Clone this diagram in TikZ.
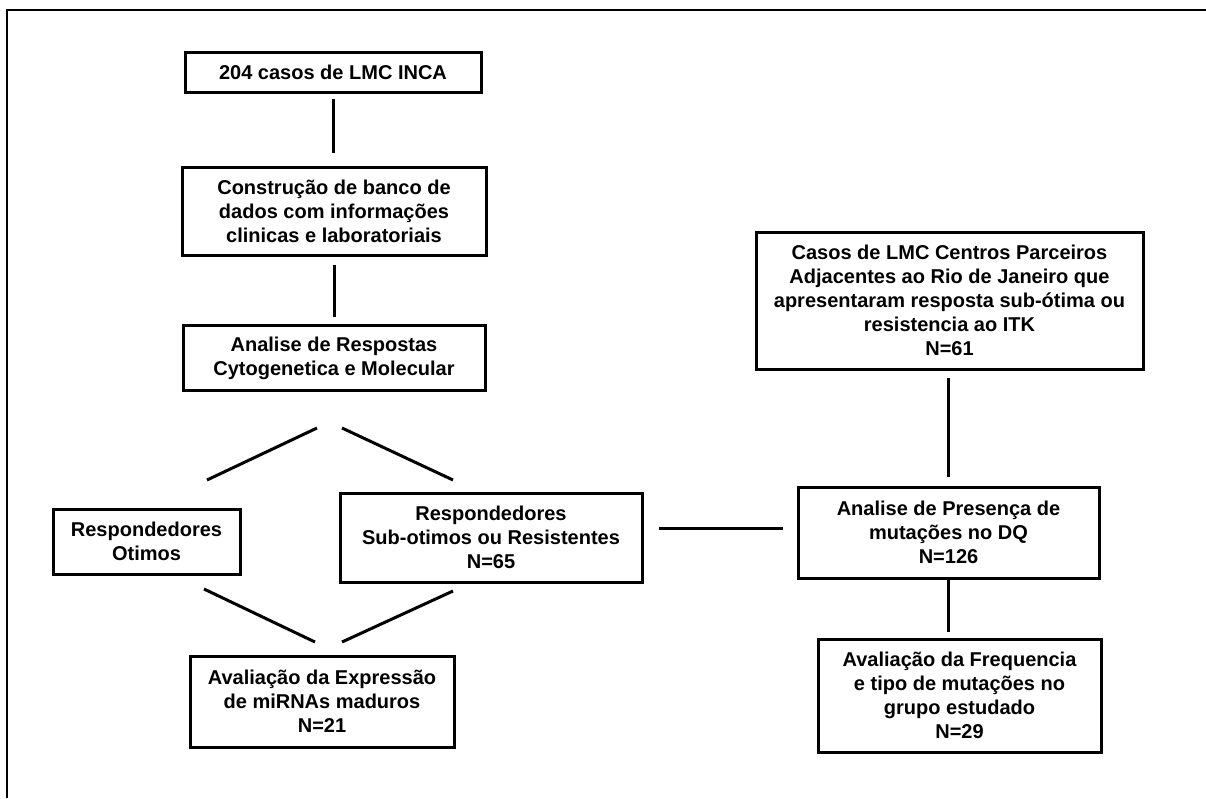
\documentclass[tikz,border=0pt]{standalone}
\usepackage{fontspec}
\setmainfont{Liberation Sans}
\usepackage{tikz}
\tikzset{caixa/.style={draw=black, line width=3pt, align=center, inner sep=0pt,
    font=\bfseries\fontsize{20}{24}\selectfont},
    liga/.style={line width=3pt}}

\begin{document}
\begin{tikzpicture}[x=1pt, y=-1pt]

            \useasboundingbox (0,0) rectangle (1206,798);
            \draw[line width=2pt] (1206,10) -- (7,10) -- (7,798);

            \node[caixa, minimum width=296, minimum height=40] (inca) at (333,72) {204 casos de LMC INCA};
            \node[caixa, minimum width=304, minimum height=88] (banco) at (334,211) {Construção de banco de\\dados com informações\\clinicas e laboratoriais};
            \node[caixa, minimum width=302, minimum height=65] (analise) at (334,358) {Analise de Respostas\\Cytogenetica e Molecular};
            \node[caixa, minimum width=187, minimum height=65] (otimos) at (146.5,541.5) {Respondedores\\Otimos};
            \node[caixa, minimum width=302, minimum height=89] (subotimos) at (491,537.5) {Respondedores\\Sub-otimos ou Resistentes\\N=65};
            \node[caixa, minimum width=264, minimum height=91] (mirna) at (322,701.5) {Avaliação da Expressão\\de miRNAs maduros\\N=21};
            \node[caixa, minimum width=387, minimum height=137] (centros) at (949.5,300.5) {Casos de LMC Centros Parceiros\\Adjacentes ao Rio de Janeiro que\\apresentaram resposta sub-ótima ou\\resistencia ao ITK\\N=61};
            \node[caixa, minimum width=301, minimum height=91] (dq) at (948.5,532.5) {Analise de Presença de\\mutações no DQ\\N=126};
            \node[caixa, minimum width=283, minimum height=113] (freq) at (959.5,695.5) {Avaliação da Frequencia\\e tipo de mutações no\\grupo estudado\\N=29};

            \coordinate (a1) at (317,428);
            \coordinate (a2) at (207,480);
            \coordinate (b1) at (342,428);
            \coordinate (b2) at (453,480);
            \coordinate (c1) at (204,589);
            \coordinate (c2) at (315,642);
            \coordinate (d1) at (453,591);
            \coordinate (d2) at (342,642);
            \coordinate (e1) at (659,528);
            \coordinate (e2) at (783,528);

            \draw[liga, shorten <=5pt, shorten >=13pt] (inca.south) -- (inca.south |- banco.north);
            \draw[liga, shorten <=8pt, shorten >=7pt] (banco.south) -- (banco.south |- analise.north);
            \draw[liga] (a1) -- (a2);
            \draw[liga] (b1) -- (b2);
            \draw[liga] (c1) -- (c2);
            \draw[liga] (d1) -- (d2);
            \draw[liga] (e1) -- (e2);
            \draw[liga, shorten <=7pt, shorten >=9pt] (centros.south -| dq.north) -- (dq.north);
            \draw[liga, shorten >=6pt] (dq.south) -- (dq.south |- freq.north);

\end{tikzpicture}
\end{document}
